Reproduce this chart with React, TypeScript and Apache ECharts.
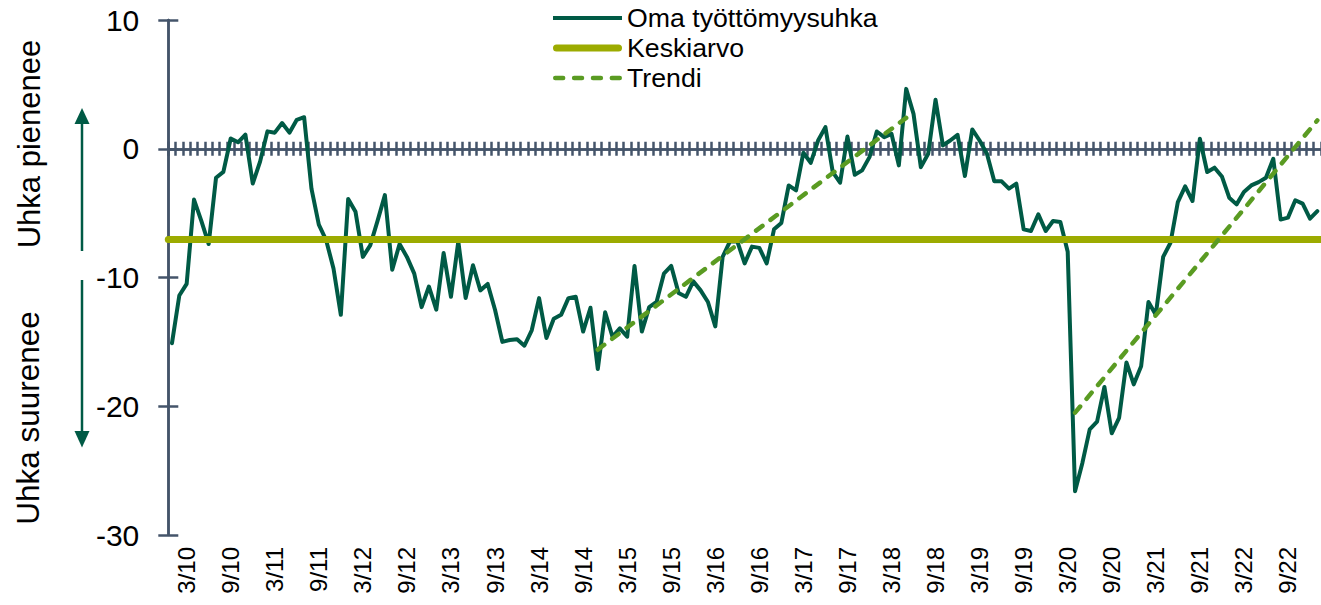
import React, { useEffect, useRef } from "react";
import * as echarts from "echarts";

// Months 1/2010 ... 1/2023 (category labels "M/YY")
const YEARS = [10, 11, 12, 13, 14, 15, 16, 17, 18, 19, 20, 21, 22];
const MONTHS = [1, 2, 3, 4, 5, 6, 7, 8, 9, 10, 11, 12];
const CATEGORIES: string[] = [];
for (const y of YEARS) for (const m of MONTHS) CATEGORIES.push(`${m}/${y}`);
CATEGORIES.push("1/23");

// Oma työttömyysuhka (saldoluku), monthly
const OMA = [
  -15.1, -11.4, -10.5, -3.95, -5.6, -7.4, -2.25, -1.8, 0.8, 0.5, 1.1, -2.7,
  -1.0, 1.35, 1.25, 2.0, 1.25, 2.25, 2.45, -3.1, -5.9, -7.1, -9.3, -12.9,
  -3.9, -4.9, -8.4, -7.5, -5.6, -3.6, -9.4, -7.4, -8.4, -9.7, -12.3, -10.7,
  -12.5, -8.1, -11.5, -7.2, -11.6, -9.05, -11.0, -10.5, -12.5, -15.0, -14.85, -14.8,
  -15.3, -14.1, -11.6, -14.7, -13.2, -12.9, -11.6, -11.5, -14.2, -12.35, -17.1, -12.7,
  -14.6, -13.95, -14.6, -9.1, -14.2, -12.3, -11.9, -9.7, -9.1, -11.2, -11.5, -10.3,
  -11.0, -11.9, -13.8, -8.4, -7.2, -7.2, -8.9, -7.6, -7.7, -8.9, -6.26, -5.76,
  -2.85, -3.23, -0.31, -1.09, 0.64, 1.68, -1.81, -2.64, 0.95, -2.02, -1.68, -0.65,
  1.34, 0.9, 1.16, -1.29, 4.65, 2.71, -1.43, -0.39, 3.8, 0.26, 0.64, 1.08,
  -2.12, 1.5, 0.64, -0.39, -2.53, -2.53, -3.1, -2.71, -6.26, -6.39, -5.09, -6.39,
  -5.61, -5.69, -8.0, -26.6, -24.4, -21.8, -21.2, -18.5, -22.1, -20.9, -16.6, -18.3,
  -16.9, -11.9, -12.9, -8.4, -7.3, -4.14, -2.92, -4.06, 0.78, -1.81, -1.47, -2.15,
  -3.8, -4.32, -3.36, -2.85, -2.59, -2.25, -0.78, -5.5, -5.35, -4.0, -4.26, -5.43,
  -4.84,
];

const KESKIARVO = -7;

// Trend segments: [month label, value]
const TREND_1: [string, number][] = [["11/14", -15.6], ["5/18", 2.4]];
const TREND_2: [string, number][] = [["4/20", -20.5], ["1/23", 2.2]];

const Y_TICKS = [10, 0, -10, -20, -30];

const SERIES_NAMES = ["Oma työttömyysuhka", "Keskiarvo", "Trendi"];
const SIDE_TEXTS = ["Uhka pienenee", "Uhka suurenee"];

const FONT = "'Liberation Sans', Arial, Helvetica, sans-serif";
const AXIS = "#44546A";
const GREEN = "#005a45";
const OLIVE = "#9cab00";
const TREND = "#5a9b22";

export default function App() {
  const ref = useRef<HTMLDivElement>(null);

  useEffect(() => {
    if (!ref.current) return;
    const chart = echarts.init(ref.current, null, { renderer: "svg" });

    const yMin = Math.min(...Y_TICKS);
    const yMax = Math.max(...Y_TICKS);
    const yInterval = Y_TICKS[0] - Y_TICKS[1];

    const zeroAxisBase = {
      type: "category" as const,
      data: CATEGORIES,
      boundaryGap: true,
      axisLine: { show: true, onZero: true, onZeroAxisIndex: 0, lineStyle: { color: AXIS, width: 2.5 } },
      axisTick: { show: true, interval: 0, length: 7, lineStyle: { color: AXIS, width: 2.5 } },
      axisLabel: { show: false },
      splitLine: { show: false },
    };

    const trendLine = { color: TREND, width: 4.5, type: [8, 10], cap: "round" };

    const option: any = {
      animation: false,
      backgroundColor: "#ffffff",
      grid: { left: 168.3, top: 20, width: 1156.3, height: 515, containLabel: false },
      legend: {
        orient: "vertical",
        left: 553,
        top: 3,
        padding: 0,
        itemWidth: 69,
        itemHeight: 8,
        itemGap: 0,
        selectedMode: false,
        itemStyle: { borderWidth: 0 },
        textStyle: { fontSize: 26.7, color: "#000", fontFamily: FONT, lineHeight: 30 },
        data: [
          { name: SERIES_NAMES[0], icon: "path://M0,2 L69,2 L69,6 L0,6 Z" },
          {
            name: SERIES_NAMES[1],
            icon: "path://M3.5,0.5 L65.5,0.5 A3.5,3.5 0 0 1 65.5,7.5 L3.5,7.5 A3.5,3.5 0 0 1 3.5,0.5 Z",
          },
          {
            name: SERIES_NAMES[2],
            icon:
              "path://M2,1.75 h8 a2.25,2.25 0 0 1 0,4.5 h-8 a2.25,2.25 0 0 1 0,-4.5 Z " +
              "M21,1.75 h8 a2.25,2.25 0 0 1 0,4.5 h-8 a2.25,2.25 0 0 1 0,-4.5 Z " +
              "M40,1.75 h8 a2.25,2.25 0 0 1 0,4.5 h-8 a2.25,2.25 0 0 1 0,-4.5 Z " +
              "M59,1.75 h8 a2.25,2.25 0 0 1 0,4.5 h-8 a2.25,2.25 0 0 1 0,-4.5 Z",
          },
        ],
      },
      xAxis: [
        { ...zeroAxisBase, position: "bottom" },
        { ...zeroAxisBase, position: "top" },
        {
          type: "category",
          data: CATEGORIES,
          boundaryGap: true,
          position: "bottom",
          axisLine: { show: false, onZero: false },
          axisTick: { show: false },
          splitLine: { show: false },
          axisLabel: {
            show: true,
            rotate: 90,
            interval: (index: number) => index % 6 === 2,
            fontSize: 24,
            color: "#000",
            fontFamily: FONT,
            margin: 12,
          },
        },
      ],
      yAxis: [
        {
          type: "value",
          min: yMin,
          max: yMax,
          interval: yInterval,
          position: "left",
          axisLine: { show: true, onZero: false, lineStyle: { color: AXIS, width: 2.5 } },
          axisTick: { show: true, length: 10, lineStyle: { color: AXIS, width: 2.5 } },
          axisLabel: { fontSize: 30, color: "#000", fontFamily: FONT, margin: 29 },
          splitLine: { show: false },
        },
        {
          type: "value",
          min: yMin,
          max: yMax,
          interval: yInterval,
          position: "left",
          axisLine: { show: true, onZero: false, lineStyle: { color: AXIS, width: 2.5 } },
          axisTick: { show: true, inside: true, length: 10, lineStyle: { color: AXIS, width: 2.5 } },
          axisLabel: { show: false },
          splitLine: { show: false },
        },
      ],
      series: [
        {
          name: SERIES_NAMES[0],
          type: "line",
          xAxisIndex: 0,
          yAxisIndex: 0,
          data: OMA,
          symbol: "none",
          color: GREEN,
          itemStyle: { color: GREEN },
          lineStyle: { color: GREEN, width: 4, join: "round", cap: "round" },
          z: 3,
        },
        {
          name: SERIES_NAMES[1],
          type: "line",
          xAxisIndex: 0,
          yAxisIndex: 0,
          data: [],
          symbol: "none",
          color: OLIVE,
          itemStyle: { color: OLIVE },
          lineStyle: { color: OLIVE, width: 7 },
          z: 4,
          markLine: {
            silent: true,
            symbol: ["none", "none"],
            label: { show: false },
            lineStyle: { color: OLIVE, width: 7, type: "solid", cap: "round" },
            emphasis: { disabled: true },
            data: [{ yAxis: KESKIARVO }],
          },
        },
        {
          name: SERIES_NAMES[2],
          type: "line",
          xAxisIndex: 0,
          yAxisIndex: 0,
          data: TREND_1,
          symbol: "none",
          color: TREND,
          itemStyle: { color: TREND },
          lineStyle: trendLine,
          z: 5,
        },
        {
          name: SERIES_NAMES[2],
          type: "line",
          xAxisIndex: 0,
          yAxisIndex: 0,
          data: TREND_2,
          symbol: "none",
          color: TREND,
          itemStyle: { color: TREND },
          lineStyle: trendLine,
          z: 5,
        },
      ],
      graphic: [
        {
          type: "text",
          x: 29,
          y: 144,
          rotation: Math.PI / 2,
          silent: true,
          style: {
            text: SIDE_TEXTS[0],
            fontSize: 31,
            fontFamily: FONT,
            fill: "#000",
            align: "center",
            verticalAlign: "middle",
            textAlign: "center",
            textVerticalAlign: "middle",
          },
        },
        {
          type: "text",
          x: 28,
          y: 418,
          rotation: Math.PI / 2,
          silent: true,
          style: {
            text: SIDE_TEXTS[1],
            fontSize: 31.5,
            fontFamily: FONT,
            fill: "#000",
            align: "center",
            verticalAlign: "middle",
            textAlign: "center",
            textVerticalAlign: "middle",
          },
        },
        { type: "line", silent: true, shape: { x1: 82, y1: 251, x2: 82, y2: 120 }, style: { stroke: GREEN, lineWidth: 2.5 } },
        { type: "polygon", silent: true, shape: { points: [[82, 108], [74.5, 124], [89.5, 124]] }, style: { fill: GREEN } },
        { type: "line", silent: true, shape: { x1: 82, y1: 280, x2: 82, y2: 435 }, style: { stroke: GREEN, lineWidth: 2.5 } },
        { type: "polygon", silent: true, shape: { points: [[82, 447.5], [74.5, 431], [89.5, 431]] }, style: { fill: GREEN } },
      ],
    };

    chart.setOption(option);
    return () => chart.dispose();
  }, []);

  return (
    <div
      ref={ref}
      style={{ position: "fixed", left: 0, top: 0, width: 1321, height: 605, background: "#ffffff" }}
    />
  );
}
